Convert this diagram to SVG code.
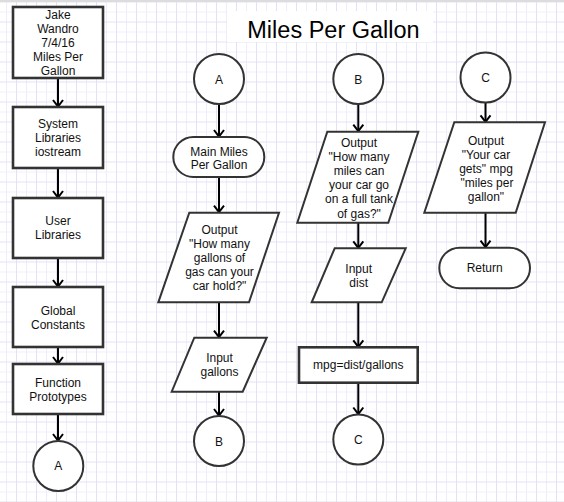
<svg xmlns="http://www.w3.org/2000/svg" width="564" height="502" viewBox="0 0 564 502">
<defs>
<pattern id="grid" patternUnits="userSpaceOnUse" x="16" y="1.5" width="20" height="20">
<rect width="20" height="20" fill="#ffffff"/>
<rect x="10" y="0" width="1" height="20" fill="#eeeefb"/>
<rect x="0" y="10" width="20" height="1" fill="#eeeefb"/>
<rect x="0" y="0" width="1" height="20" fill="#e2e2f6"/>
<rect x="0" y="0" width="20" height="1" fill="#e2e2f6"/>
</pattern>
<marker id="arr" markerUnits="userSpaceOnUse" markerWidth="14" markerHeight="14" viewBox="-9 -7 11 14" refX="0" refY="0" orient="auto">
<path d="M-7,-5 L-0.5,0 L-7,5" fill="none" stroke="#000" stroke-width="2"/>
</marker>
<style>
.box{fill:#fff;stroke:#333;stroke-width:2.6}
.shp{fill:#fff;stroke:#333;stroke-width:2}
.t{font-family:"Liberation Sans",Arial,sans-serif;font-size:12px;fill:#111;text-anchor:middle}
.title{font-family:"Liberation Sans",Arial,sans-serif;font-size:23.5px;fill:#000;text-anchor:middle}
.c{fill:none;stroke:#000;stroke-width:2;marker-end:url(#arr)}
</style>
</defs>
<rect width="564" height="502" fill="url(#grid)"/>
<rect x="0" y="0" width="564" height="2" fill="#dcdcdc"/>

<g id="title">
<rect x="227" y="11" width="206" height="31" fill="#fff"/>
<text class="title" x="333.5" y="37.7">Miles Per Gallon</text>
</g>

<g id="connectors">
<path class="c" d="M58,78 V107"/>
<path class="c" d="M58,168 V198"/>
<path class="c" d="M58,258 V287"/>
<path class="c" d="M58,347 V364"/>
<path class="c" d="M58,414 V441"/>
<path class="c" d="M219,104 V137"/>
<path class="c" d="M219,177 V212.7"/>
<path class="c" d="M219,302.3 V337.7"/>
<path class="c" d="M219,391.7 V416"/>
<path class="c" d="M358.3,104 V131.7"/>
<path class="c" d="M358.3,222.7 V248.3"/>
<path class="c" d="M358.3,302.3 V347.3"/>
<path class="c" d="M358.3,382.7 V414.5"/>
<path class="c" d="M485.5,102.5 V122.3"/>
<path class="c" d="M485.5,212.7 V247.7"/>
</g>

<g id="header">
<rect class="box" x="13" y="7" width="90" height="71"/>
<text class="t" x="58" y="19">Jake</text>
<text class="t" x="58" y="33">Wandro</text>
<text class="t" x="58" y="47">7/4/16</text>
<text class="t" x="58" y="61">Miles Per</text>
<text class="t" x="58" y="75">Gallon</text>
</g>
<g id="system-libraries">
<rect class="box" x="13" y="107" width="90" height="61"/>
<text class="t" x="58" y="128">System</text>
<text class="t" x="58" y="142">Libraries</text>
<text class="t" x="58" y="156">iostream</text>
</g>
<g id="user-libraries">
<rect class="box" x="13" y="198" width="90" height="60"/>
<text class="t" x="58" y="225">User</text>
<text class="t" x="58" y="239">Libraries</text>
</g>
<g id="global-constants">
<rect class="box" x="13" y="287" width="90" height="60"/>
<text class="t" x="58" y="315">Global</text>
<text class="t" x="58" y="329">Constants</text>
</g>
<g id="function-prototypes">
<rect class="box" x="13" y="364" width="90" height="50"/>
<text class="t" x="58" y="387">Function</text>
<text class="t" x="58" y="401">Prototypes</text>
</g>
<g id="connector-a-out">
<circle class="shp" cx="58.3" cy="466" r="25"/>
<text class="t" x="58.3" y="470.3">A</text>
</g>

<g id="connector-a-in">
<circle class="shp" cx="219" cy="79" r="25"/>
<text class="t" x="219" y="83.5">A</text>
</g>
<g id="main-start">
<rect class="shp" x="173.3" y="137" width="91" height="40" rx="20" ry="20"/>
<text class="t" x="219" y="155.5">Main Miles</text>
<text class="t" x="219" y="169">Per Gallon</text>
</g>
<g id="output-gallons">
<polygon class="shp" points="189.3,212.7 279,212.7 249,302.3 158.3,302.3"/>
<text class="t" x="219.5" y="234">Output</text>
<text class="t" x="219.5" y="248">"How many</text>
<text class="t" x="219.5" y="262">gallons of</text>
<text class="t" x="219.5" y="276">gas can your</text>
<text class="t" x="219.5" y="290">car hold?"</text>
</g>
<g id="input-gallons">
<polygon class="shp" points="194.3,337.7 266.7,337.7 242.7,391.7 171.7,391.7"/>
<text class="t" x="219.5" y="362">Input</text>
<text class="t" x="219.5" y="376">gallons</text>
</g>
<g id="connector-b-out">
<circle class="shp" cx="219" cy="441" r="25"/>
<text class="t" x="219" y="445.5">B</text>
</g>

<g id="connector-b-in">
<circle class="shp" cx="358.3" cy="79" r="25"/>
<text class="t" x="358.3" y="83.5">B</text>
</g>
<g id="output-miles">
<polygon class="shp" points="327.3,131.7 418.3,131.7 388.3,222.7 297.3,222.7"/>
<text class="t" x="359" y="147">Output</text>
<text class="t" x="359" y="161.1">"How many</text>
<text class="t" x="359" y="175.2">miles can</text>
<text class="t" x="359" y="189.3">your car go</text>
<text class="t" x="359" y="203.4">on a full tank</text>
<text class="t" x="359" y="217.5">of gas?"</text>
</g>
<g id="input-dist">
<polygon class="shp" points="334.7,248.3 405.7,248.3 381.7,302.3 311.7,302.3"/>
<text class="t" x="358.7" y="273">Input</text>
<text class="t" x="358.7" y="287">dist</text>
</g>
<g id="calc-mpg">
<rect class="box" x="299" y="347.3" width="118.7" height="35.4"/>
<text class="t" x="358.3" y="369.3">mpg=dist/gallons</text>
</g>
<g id="connector-c-out">
<circle class="shp" cx="358.3" cy="439.5" r="25"/>
<text class="t" x="358.3" y="444">C</text>
</g>

<g id="connector-c-in">
<circle class="shp" cx="485.5" cy="77.5" r="25"/>
<text class="t" x="485.5" y="82">C</text>
</g>
<g id="output-mpg">
<polygon class="shp" points="454.3,122.3 545,122.3 515.7,212.7 424.3,212.7"/>
<text class="t" x="486" y="144.5">Output</text>
<text class="t" x="486" y="158.5">"Your car</text>
<text class="t" x="486" y="172.5">gets" mpg</text>
<text class="t" x="487" y="186.5">"miles per</text>
<text class="t" x="486" y="200.5">gallon"</text>
</g>
<g id="return">
<rect class="shp" x="439.3" y="247.7" width="90.7" height="40.6" rx="20.3" ry="20.3"/>
<text class="t" x="484.7" y="272">Return</text>
</g>
</svg>
